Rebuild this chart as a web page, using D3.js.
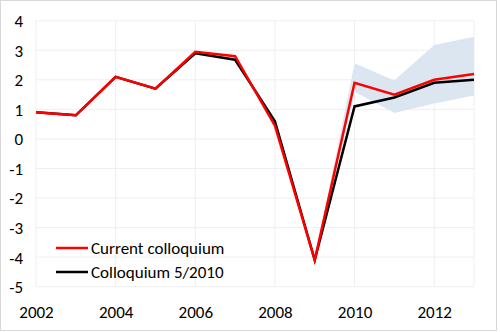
<!DOCTYPE html>
<html>
<head>
<meta charset="utf-8">
<script src="https://cdn.jsdelivr.net/npm/d3@7"></script>
<style>
  body { margin: 0; background: #fff; }
  text { font-family: Calibri, Carlito, "Liberation Sans", Arial, sans-serif; fill: #000; }
</style>
</head>
<body>
<script>
var years = [2002, 2003, 2004, 2005, 2006, 2007, 2008, 2009, 2010, 2011, 2012, 2013]
var current = [0.9, 0.8, 2.1, 1.7, 2.95, 2.8, 0.45, -4.1, 1.9, 1.5, 2.0, 2.2]
var colloquium = [0.9, 0.8, 2.1, 1.7, 2.9, 2.68, 0.6, -4.1, 1.1, 1.4, 1.9, 2.0]
var bandYears = [2009, 2010, 2011, 2012, 2013]
var bandLow = [-4.1, 1.6, 0.88, 1.2, 1.47]
var bandHigh = [-4.1, 2.56, 1.98, 3.18, 3.46]
var yTicks = [4, 3, 2, 1, 0, -1, -2, -3, -4, -5]
var xTicks = [2002, 2004, 2006, 2008, 2010, 2012]
var legendNames = ['Current colloquium', 'Colloquium 5/2010']

var width = 500, height = 332

var svg = d3.select('body')
  .append('svg')
  .attr('width', width)
  .attr('height', height)

svg.append('rect')
  .attr('x', 0.5).attr('y', 0.5)
  .attr('width', width - 4).attr('height', height - 2)
  .attr('fill', '#fff')
  .attr('stroke', '#d9d9d9')

var x = d3.scaleLinear().domain([2002, 2013]).range([36, 474])
var y = d3.scaleLinear().domain([-5, 4]).range([286.7, 20.7])

// gridlines
var grid = svg.append('g')
grid.selectAll('line.h')
  .data(yTicks)
  .enter()
  .append('line')
  .attr('x1', x(2002)).attr('x2', x(2013))
  .attr('y1', d => y(d)).attr('y2', d => y(d))
  .attr('stroke', '#efefef')
grid.selectAll('line.v')
  .data(xTicks.concat([2013]))
  .enter()
  .append('line')
  .attr('x1', d => x(d)).attr('x2', d => x(d))
  .attr('y1', y(4)).attr('y2', y(-5))
  .attr('stroke', '#efefef')

// axis labels
var yAxis = svg.append('g')
  .attr('transform', 'translate(25,0)')
  .call(d3.axisLeft(y).tickValues(yTicks).tickSize(0).tickFormat(d => String(d)))
yAxis.select('.domain').remove()
yAxis.selectAll('text').attr('font-size', 17).attr('x', -2).attr('dy', '0.35em')

var xAxis = svg.append('g')
  .attr('transform', 'translate(0,302)')
  .call(d3.axisBottom(x).tickValues(xTicks).tickSize(0).tickFormat(d => String(d)))
xAxis.select('.domain').remove()
xAxis.selectAll('text').attr('font-size', 17).attr('y', 16).attr('dy', 0)

// forecast band
var band = bandYears.map((yr, i) => ({yr: yr, lo: bandLow[i], hi: bandHigh[i]}))
var area = d3.area()
  .x(d => x(d.yr))
  .y0(d => y(d.lo))
  .y1(d => y(d.hi))
svg.append('path')
  .attr('d', area(band))
  .attr('fill', '#dce6f1')

var line = d3.line()
  .x((d, i) => x(years[i]))
  .y(d => y(d))

svg.append('path')
  .attr('d', line(colloquium))
  .attr('fill', 'none')
  .attr('stroke', '#000')
  .attr('stroke-width', 2.5)

svg.append('path')
  .attr('d', line(current))
  .attr('fill', 'none')
  .attr('stroke', '#ff0000')
  .attr('stroke-width', 2.5)

// legend
var legend = svg.append('g')
var colors = ['#ff0000', '#000']
legendNames.forEach(function(name, i) {
  var ly = 248 + i * 24
  legend.append('line')
    .attr('x1', 56).attr('x2', 88)
    .attr('y1', ly).attr('y2', ly)
    .attr('stroke', colors[i])
    .attr('stroke-width', 2.5)
  legend.append('text')
    .attr('x', 91).attr('y', ly)
    .attr('dy', '0.35em')
    .attr('font-size', 17)
    .text(name)
})
</script>
</body>
</html>
